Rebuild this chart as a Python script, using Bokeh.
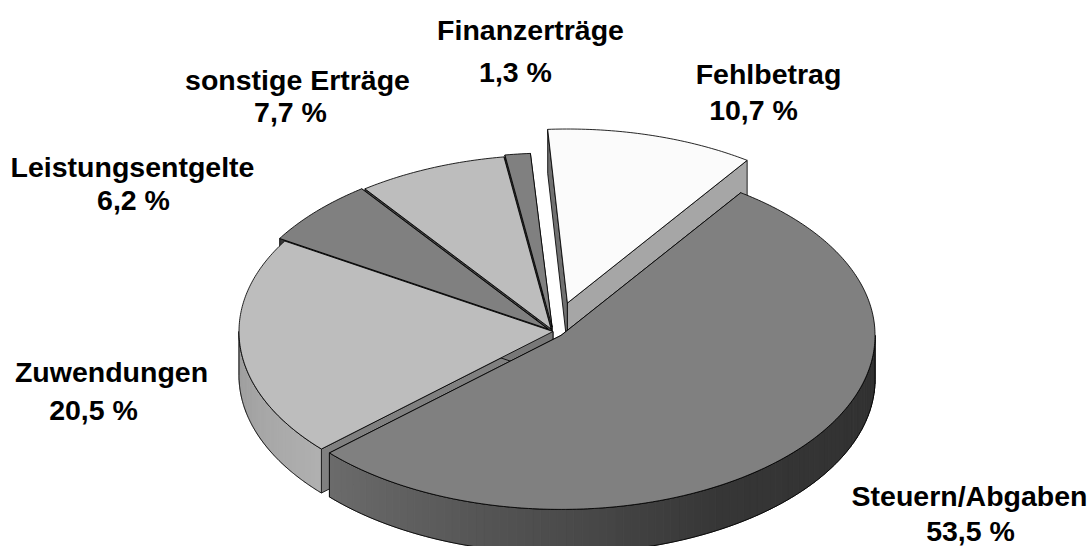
import math
import numpy as np
from bokeh.embed import file_html
from bokeh.models import ColumnDataSource, Range1d
from bokeh.plotting import figure
from bokeh.resources import INLINE
from bokeh.core.properties import value

# ---- data (clockwise from the pie's start angle) ----
names = ["Fehlbetrag", "Steuern/Abgaben", "Zuwendungen", "Leistungsentgelte", "sonstige Erträge", "Finanzerträge"]
shares = [10.7, 53.5, 20.5, 6.2, 7.7, 1.3]

# ---- style ----
explode = [0.17, 0.034, 0.0, 0.022, 0.016, 0.026]
top_grey = [0xFB, 0x80, 0xBD, 0x80, 0xBD, 0x80]
start_face_grey = [0x70, 0x30, 0x80, 0x38, 0x40, 0x40]
end_face_grey = [0xA6, 0x70, 0x78, 0x38, 0x40, 0x40]
draw_order = [0, 5, 4, 3, 2, 1]
START = -3.6
CX, CY, RX, RY, DEPTH = 552.5, 331.0, 314.0, 174.0, 44.0
FONT = "Liberation Sans"
FS = 28.5
label_name_pos = [(768, 73), (969, 495), (111, 371), (132, 166), (297, 79), (530, 29)]
label_pct_pos = [(753, 109), (970, 530), (93, 409), (133, 199), (290, 111), (515, 71)]


def grey(v):
    v = int(round(v))
    return f"#{v:02x}{v:02x}{v:02x}"


def rim(cx, cy, a):
    t = math.radians(a)
    return cx + RX * math.sin(t), cy - RY * math.cos(t)


def side_grey(i, a):
    if i == 1:  # dark slice: shading fades to the right
        return np.interp(a, [90, 150, 227.5], [0x30, 0x36, 0x6C])
    if i == 2:
        return np.interp(a, [227.5, 270], [0xB0, 0x9C])
    return 0x90


polys = dict(xs=[], ys=[], fill=[], line=[], falpha=[], lalpha=[])


def add(xs, ys, fill, line="#000000", falpha=1.0, lalpha=0.85):
    polys["xs"].append(list(xs))
    polys["ys"].append(list(ys))
    polys["fill"].append(fill)
    polys["line"].append(line)
    polys["falpha"].append(falpha)
    polys["lalpha"].append(lalpha)


edges = [START + 3.6 * sum(shares[:k]) for k in range(len(shares) + 1)]

for i in draw_order:
    a0, a1 = edges[i], edges[i + 1]
    mid = math.radians((a0 + a1) / 2)
    cx = CX + explode[i] * RX * math.sin(mid)
    cy = CY - explode[i] * RY * math.cos(mid)

    # radial faces
    for a, g in ((a0, start_face_grey[i]), (a1, end_face_grey[i])):
        x, y = rim(cx, cy, a)
        add([cx, x, x, cx], [cy, y, y + DEPTH, cy + DEPTH], grey(g))

    # visible part of the outer wall, in shaded strips
    lo, hi = max(a0, 90), min(a1, 270)
    if hi > lo:
        steps = np.linspace(lo, hi, max(2, int((hi - lo) / 1.5)) + 1)
        for s0, s1 in zip(steps[:-1], steps[1:]):
            arc = np.linspace(s0, s1, 3)
            px, py = zip(*[rim(cx, cy, a) for a in arc])
            c = grey(side_grey(i, (s0 + s1) / 2))
            add(list(px) + list(px[::-1]), list(py) + [v + DEPTH for v in py[::-1]], c, line=c, lalpha=1.0)
        arc = np.linspace(lo, hi, 120)
        px, py = zip(*[rim(cx, cy, a) for a in arc])
        add(list(px) + list(px[::-1]), list(py) + [v + DEPTH for v in py[::-1]], "#000000", falpha=0.0)

    # top surface
    arc = np.linspace(a0, a1, max(4, int((a1 - a0) * 1.5)))
    px, py = zip(*[rim(cx, cy, a) for a in arc])
    add([cx] + list(px), [cy] + list(py), grey(top_grey[i]))

p = figure(width=1088, height=546, output_backend="svg", toolbar_location=None,
           x_range=Range1d(0, 1088), y_range=Range1d(546, 0),
           min_border=0, outline_line_color=None, background_fill_color="#ffffff",
           border_fill_color="#ffffff")
p.axis.visible = False
p.grid.visible = False
p.patches("xs", "ys", source=ColumnDataSource(polys), fill_color="fill", fill_alpha="falpha",
          line_color="line", line_width=1, line_alpha="lalpha")

pct = [f"{v:.1f} %".replace(".", ",") for v in shares]
for texts, pos in ((names, label_name_pos), (pct, label_pct_pos)):
    p.text(x=[q[0] for q in pos], y=[q[1] for q in pos], text=texts,
           text_font=value(FONT), text_font_style="bold", text_font_size=f"{FS}px",
           text_align="center", text_baseline="middle", text_color="#000000")

open("out.html", "w").write(file_html(p, INLINE))
